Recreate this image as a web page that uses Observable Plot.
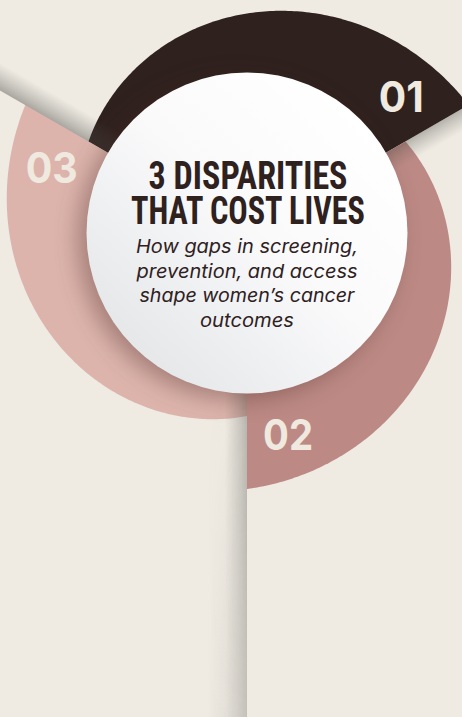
<!DOCTYPE html>
<html>
<head>
<meta charset="utf-8">
<script src="https://cdn.jsdelivr.net/npm/d3@7"></script>
<script src="https://cdn.jsdelivr.net/npm/@observablehq/plot@0.6"></script>
<style>
  html, body { margin: 0; padding: 0; background: #efebe3; }
  #chart { width: 462px; height: 717px; overflow: hidden; }
</style>
</head>
<body>
<div id="chart"></div>
<script>
// ---------- data ----------
const segmentIds = ["01", "02", "03"];
const segmentEndAngles = [30, -90, 150];   // degrees (counter-clockwise from east) where each segment ends
const segmentSweeps = [120, 120, 120];     // angular share of each segment, degrees
const titleLines = ["3 DISPARITIES", "THAT COST LIVES"];
const subtitleLines = ["How gaps in screening,", "prevention, and access", "shape women’s cancer", "outcomes"];

// ---------- layout & style ----------
const W = 462, H = 717, CX = 246.5, CY = 232.5;
const R_CIRCLE = 160.5, R_START = 183, R_END = 256;
const LABEL_R = 206, LABEL_SHIFT = 11.5;
const segmentColors = ["#2f211e", "#bc8984", "#dcb4ac"];
const labelWidths = [45, 50, 52];
const titleWidths = [199, 234];
const subtitleWidths = [222, 221, 215, 94];
const rad = d => d * Math.PI / 180;

// spiral segments (radius grows clockwise)
const segPts = [];
segmentIds.forEach((id, i) => {
  const e = segmentEndAngles[i], sw = segmentSweeps[i], s = e + sw;
  segPts.push({id, x: 0, y: 0});
  const n = 160;
  for (let k = 0; k <= n; k++) {
    const t = k / n, a = rad(s - t * sw), r = R_START + t * (R_END - R_START);
    segPts.push({id, x: r * Math.cos(a), y: r * Math.sin(a)});
  }
});

// fold shadow strips along each segment's end ray
const foldStrip = (angle, w0, w1) => {
  const a = rad(angle);
  const d = [Math.cos(a), Math.sin(a)], p = [Math.sin(a), -Math.cos(a)];
  const r0 = 140, r1 = 720;
  return [[r0, 0], [r1, 0], [r1, w1], [r0, w0]].map(([r, o]) => ({x: r * d[0] + o * p[0], y: r * d[1] + o * p[1]}));
};
const folds = segmentEndAngles.map(e => foldStrip(e, 30, 60));
const bottomFold = foldStrip(segmentEndAngles[1], 60, 70);

const labels = segmentIds.map((id, i) => {
  const a = rad(segmentEndAngles[i] + LABEL_SHIFT);
  return {id, x: LABEL_R * Math.cos(a), y: LABEL_R * Math.sin(a)};
});

const TITLE_LAST_Y = 9.5, TITLE_LH = 35 / 39;
const SUB_LAST_Y = -93.5, SUB_LH = 24.5 / 18.5;

const maskRender = (id) => (index, scales, values, dims, ctx, next) => {
  const g = next(index, scales, values, dims, ctx);
  g.setAttribute("mask", `url(#${id})`);
  return g;
};

const svg = Plot.plot({
  width: W, height: H,
  margin: 0,
  x: {domain: [-CX, W - CX], range: [0, W], axis: null},
  y: {domain: [CY - H, CY], range: [H, 0], axis: null},
  color: {domain: segmentIds, range: segmentColors},
  style: {background: "#efebe3", overflow: "hidden"},
  marks: [
    Plot.line(segPts, {x: "x", y: "y", z: "id", fill: "id", stroke: "none", curve: "linear"}),
    ...folds.map((pts, i) => Plot.line(pts, {
      x: "x", y: "y", fill: `url(#fold${i})`, stroke: "none",
      render: segmentEndAngles[i] === -90 ? maskRender("vfadeMask") : undefined
    })),
    Plot.line(bottomFold, {x: "x", y: "y", fill: "url(#foldWide)", stroke: "none", render: maskRender("vgrowMask")}),
    Plot.dot([{x: 0, y: 0}], {
      x: "x", y: "y", r: R_CIRCLE, fill: "url(#whiteGrad)", stroke: "none",
      imageFilter: "drop-shadow(-9px 6px 11px rgba(70,35,30,0.36))"
    }),
    Plot.text(labels, {
      x: "x", y: "y", text: "id", fill: "#efe9df", fontSize: 42, fontWeight: 700,
      fontFamily: "Inter, Roboto, sans-serif", textAnchor: "middle", lineAnchor: "middle", dy: 2
    }),
    Plot.text([titleLines.join("\n")], {
      x: () => 1, y: () => TITLE_LAST_Y, text: d => d, lineHeight: TITLE_LH,
      fill: "#2e211e", fontSize: 39, fontWeight: 700,
      fontFamily: "'Roboto Condensed', 'Liberation Sans Narrow', Roboto, sans-serif",
      textAnchor: "middle", lineAnchor: "bottom"
    }),
    Plot.text([subtitleLines.join("\n")], {
      x: () => 0, y: () => SUB_LAST_Y, text: d => d, lineHeight: SUB_LH,
      fill: "#2e211e", fontSize: 18.5, fontStyle: "italic", fontWeight: 400,
      fontFamily: "Inter, 'Open Sans', sans-serif",
      textAnchor: "middle", lineAnchor: "bottom"
    })
  ]
});

// ---------- gradients, masks ----------
const root = d3.select(svg);
const defs = root.insert("defs", ":first-child");
const wg = defs.append("linearGradient").attr("id", "whiteGrad")
  .attr("x1", 0.85).attr("y1", 0.12).attr("x2", 0.12).attr("y2", 0.88);
wg.append("stop").attr("offset", 0).attr("stop-color", "#ffffff");
wg.append("stop").attr("offset", 0.45).attr("stop-color", "#fafafb");
wg.append("stop").attr("offset", 1).attr("stop-color", "#e4e6e8");

const foldGradient = (id, angle, L, alpha) => {
  const a = rad(angle);
  const g = defs.append("linearGradient").attr("id", id).attr("gradientUnits", "userSpaceOnUse")
    .attr("x1", CX).attr("y1", CY)
    .attr("x2", CX + L * Math.sin(a)).attr("y2", CY + L * Math.cos(a));
  g.append("stop").attr("offset", 0).attr("stop-color", "#3f3f3a").attr("stop-opacity", alpha);
  g.append("stop").attr("offset", 0.3).attr("stop-color", "#4a4a45").attr("stop-opacity", alpha * 0.7);
  g.append("stop").attr("offset", 1).attr("stop-color", "#5a5a55").attr("stop-opacity", 0);
};
const foldLen = [20, 22, 24];
const foldAlpha = [0.33, 0.32, 0.40];
segmentEndAngles.forEach((e, i) => foldGradient(`fold${i}`, e, foldLen[i], foldAlpha[i]));
foldGradient("foldWide", segmentEndAngles[1], 40, 0.14);

const vMask = (id, from, to) => {
  const gid = id + "Grad";
  const vf = defs.append("linearGradient").attr("id", gid).attr("gradientUnits", "userSpaceOnUse")
    .attr("x1", 0).attr("y1", 390).attr("x2", 0).attr("y2", H);
  vf.append("stop").attr("offset", 0).attr("stop-color", from);
  vf.append("stop").attr("offset", 1).attr("stop-color", to);
  const m = defs.append("mask").attr("id", id).attr("maskUnits", "userSpaceOnUse")
    .attr("x", 0).attr("y", 0).attr("width", W).attr("height", H);
  m.append("rect").attr("width", W).attr("height", H).attr("fill", `url(#${gid})`);
};
vMask("vfadeMask", "#ffffff", "#606060");
vMask("vgrowMask", "#000000", "#ffffff");

// fit text widths (labels, title and subtitle lines)
const fit = new Map([
  ...segmentIds.map((t, i) => [t, labelWidths[i]]),
  ...titleLines.map((t, i) => [t, titleWidths[i]]),
  ...subtitleLines.map((t, i) => [t, subtitleWidths[i]])
]);
root.selectAll("text, tspan").each(function() {
  if (this.tagName === "text" && this.querySelector("tspan")) return;
  const t = this.textContent;
  if (fit.has(t)) {
    this.setAttribute("textLength", fit.get(t));
    this.setAttribute("lengthAdjust", "spacingAndGlyphs");
  }
});

document.getElementById("chart").appendChild(svg);
</script>
</body>
</html>
